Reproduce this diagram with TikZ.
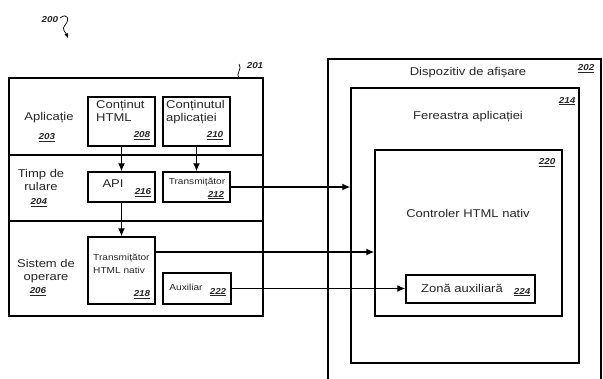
\documentclass[tikz,border=0pt]{standalone}
\usepackage{fontspec}
\setmainfont{Liberation Sans}[FakeStretch=1.15]
\usetikzlibrary{arrows.meta}
\begin{document}
\begin{tikzpicture}[x=1pt,y=-1pt,
  box/.style={draw, line width=1.4pt, inner sep=0pt, minimum width=#1},
  lbl/.style={font=\fontsize{11.3}{13.5}\selectfont, align=center, inner sep=0pt, text=black!85},
  small/.style={font=\fontsize{8.8}{12.5}\selectfont, inner sep=0pt, text=black!85},
  num/.style={font=\fontsize{8.6}{9}\selectfont\bfseries\itshape, inner sep=0pt, text=black!85},
  conn/.style={line width=1.3pt},
  arr/.style={line width=1.3pt, -{Latex[length=8pt,width=7pt]}}]
\useasboundingbox (0,0) rectangle (603,378);
% outer box 201
\node[box=254pt, minimum height=238pt] (b201) at (136,197) {};
\draw[line width=1.4pt] (9,155) -- (263,155);
\draw[line width=1.4pt] (9,221) -- (263,221);
% inner boxes left
\node[box=67pt, minimum height=49pt] (b208) at (121.5,121.5) {};
\node[box=67pt, minimum height=49pt] (b210) at (196.5,121.5) {};
\node[box=67pt, minimum height=30pt] (b216) at (121.5,187) {};
\node[box=67pt, minimum height=30pt] (b212) at (196.5,187) {};
\node[box=67pt, minimum height=67pt] (b218) at (121.5,270.5) {};
\node[box=68pt, minimum height=31pt] (b222) at (197,288.5) {};
% display device 202
\coordinate (d1) at (328,385);
\coordinate (d2) at (601,385);
\draw[line width=1.4pt] (d1) -- (328,59) -- (601,59) -- (d2);
\node[box=228pt, minimum height=275pt] (b214) at (465,225.5) {};
\node[box=187pt, minimum height=166pt] (b220) at (468.5,233) {};
\node[box=129pt, minimum height=28pt] (b224) at (470.5,289) {};
% texts left
\node[lbl] (tapl) at (49,118) {Aplicație};
\node[num] (n203) at (47,138) {\underline{203}};
\node[lbl] (ttimp) at (41,180) {Timp de\\rulare};
\node[num] (n204) at (39,203) {\underline{204}};
\node[lbl] (tsis) at (46,271) {Sistem de\\operare};
\node[num] (n206) at (38,292) {\underline{206}};
\node[lbl, align=left, anchor=north west] (t208) at (96,100) {Conținut\\HTML};
\node[num] (n208) at (142,136) {\underline{208}};
\node[lbl, align=left, anchor=north west] (t210) at (166,100) {Conținutul\\aplicației};
\node[num] (n210) at (215,136) {\underline{210}};
\node[lbl] (t216) at (113,184) {API};
\node[num] (n216) at (143,193) {\underline{216}};
\node[small] (t212) at (197,182) {Transmițător};
\node[num] (n212) at (216,195) {\underline{212}};
\node[small, align=left, anchor=north west] (t218) at (93,254) {Transmițător\\HTML nativ};
\node[num] (n218) at (142,295) {\underline{218}};
\node[small] (t222) at (186,287) {Auxiliar};
\node[num] (n222) at (218,292) {\underline{222}};
% texts right
\node[lbl] (t202) at (468,73) {Dispozitiv de afișare};
\node[num] (n202) at (586,69) {\underline{202}};
\node[lbl] (t214) at (468,117) {Fereastra aplicației};
\node[num] (n214) at (567,101) {\underline{214}};
\node[lbl] (t220) at (468,213) {Controler HTML nativ};
\node[num] (n220) at (547,163) {\underline{220}};
\node[lbl] (t224) at (462,288) {Zonă auxiliară};
\node[num] (n224) at (522,292) {\underline{224}};
% reference labels
\node[num] (n201) at (255,66) {201};
\node[num] (n200) at (50,20) {200};
\coordinate (s1a) at (239,78);
\coordinate (s1b) at (239,64);
\draw[line width=0.7pt] (s1a) .. controls (235,74) and (243,69) .. (s1b);
\coordinate (s2a) at (60,18);
\coordinate (s2b) at (68,38);
\draw[line width=0.7pt, -{Latex[length=4.5pt,width=4pt]}] (s2a) .. controls (68,12) and (70,20) .. (65,25) .. controls (61,29) and (66,33) .. (s2b);
% connectors
\draw[arr] (b208.south) -- (b216.north);
\draw[arr] (b210.south) -- (b212.north);
\draw[arr] (b216.south) -- (b218.north);
\draw[arr] (b212.east) -- (b212.east -| b214.west);
\draw[arr] (b218.east |- 0,252) -- (b220.west |- 0,252);
\draw[arr] (b222.east) -- (b222.east -| b224.west);
\end{tikzpicture}
\end{document}
